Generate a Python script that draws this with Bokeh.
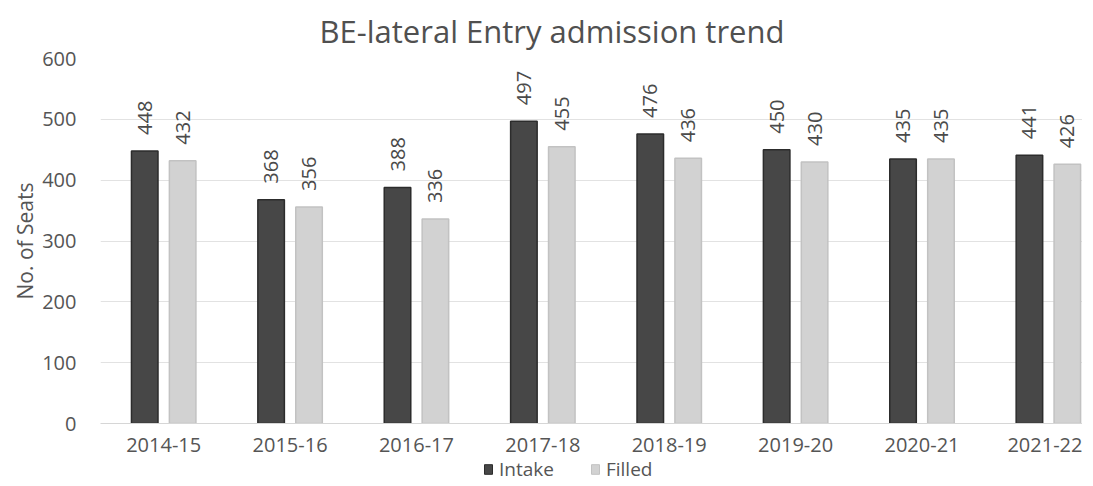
import math
from bokeh.plotting import figure
from bokeh.layouts import column
from bokeh.models import ColumnDataSource, Range1d, Legend, LegendItem, FixedTicker
from bokeh.core.properties import value
from bokeh.embed import file_html
from bokeh.resources import INLINE

years = ["2014-15", "2015-16", "2016-17", "2017-18", "2018-19", "2019-20", "2020-21", "2021-22"]
intake = [448, 368, 388, 497, 476, 450, 435, 441]
filled = [432, 356, 336, 455, 436, 430, 435, 426]

centers = [i + 0.5 for i in range(len(years))]
OFF = 0.15
src = ColumnDataSource(dict(
    xi=[c - OFF for c in centers], xf=[c + OFF for c in centers],
    intake=intake, filled=filled,
    intake_lbl=[str(v) for v in intake],
    filled_lbl=[str(v) for v in filled]))

FONT = "Open Sans"
TXT = "#555555"
DARK_FILL, DARK_LINE = "#474747", "#2c2c2c"
LIGHT_FILL, LIGHT_LINE = "#d2d2d2", "#c2c2c2"

p = figure(x_range=Range1d(0, 7.77), y_range=Range1d(0, 600),
           frame_width=982, frame_height=365,
           output_backend="svg", toolbar_location=None,
           title="BE-lateral Entry admission trend",
           min_border_left=100, min_border_right=0, min_border_top=52, min_border_bottom=34)
p.background_fill_color = "#ffffff"
p.border_fill_color = "#ffffff"
p.outline_line_color = None

p.title.align = "left"
p.title.offset = 219
p.title.standoff = 14
p.title.text_font = FONT
p.title.text_font_size = "31px"
p.title.text_font_style = "normal"
p.title.text_color = "#505050"

p.vbar(x="xi", top="intake", width=0.21, source=src,
       fill_color=DARK_FILL, line_color=DARK_LINE, line_width=1.5)
p.vbar(x="xf", top="filled", width=0.21, source=src,
       fill_color=LIGHT_FILL, line_color=LIGHT_LINE, line_width=1.5)

p.text(x="xi", y="intake", text="intake_lbl", source=src,
       angle=math.pi / 2, text_align="left", text_baseline="middle", y_offset=-16,
       text_font=value(FONT), text_font_size="20px", text_color="#4a4a4a")
p.text(x="xf", y="filled", text="filled_lbl", source=src,
       angle=math.pi / 2, text_align="left", text_baseline="middle", y_offset=-16,
       text_font=value(FONT), text_font_size="20px", text_color="#4a4a4a")

p.xaxis.ticker = FixedTicker(ticks=centers)
p.xaxis.major_label_overrides = {c: y for c, y in zip(centers, years)}
p.xaxis.axis_line_color = "#d6d6d6"
p.yaxis.axis_line_color = None
for ax in (p.xaxis[0], p.yaxis[0]):
    ax.major_tick_line_color = None
    ax.minor_tick_line_color = None
    ax.major_label_text_font = FONT
    ax.major_label_text_font_size = "20px"
    ax.major_label_text_color = TXT
p.yaxis.ticker = FixedTicker(ticks=[0, 100, 200, 300, 400, 500, 600])
p.yaxis.axis_label = "No. of Seats"
p.yaxis.axis_label_text_font = FONT
p.yaxis.axis_label_text_font_size = "21px"
p.yaxis.axis_label_text_font_style = "normal"
p.yaxis.axis_label_text_color = TXT
p.yaxis.axis_label_standoff = 0
p.yaxis.major_label_standoff = 18
p.xaxis.major_label_standoff = 8
p.xgrid.grid_line_color = None
p.ygrid.grid_line_color = "#e2e2e2"

# legend strip below the chart
lg = figure(width=1082, height=19, output_backend="svg", toolbar_location=None,
            min_border=0, x_axis_location=None, y_axis_location=None,
            x_range=Range1d(0, 1), y_range=Range1d(0, 1))
lg.grid.visible = False
lg.outline_line_color = None
lg.background_fill_color = "#ffffff"
lg.border_fill_color = "#ffffff"
d1 = lg.vbar(x=[-5], top=[0], width=0.1, fill_color=DARK_FILL, line_color=DARK_LINE)
d2 = lg.vbar(x=[-5], top=[0], width=0.1, fill_color=LIGHT_FILL, line_color=LIGHT_LINE)
legend = Legend(items=[LegendItem(label="Intake", renderers=[d1]),
                       LegendItem(label="Filled", renderers=[d2])],
                orientation="horizontal", location=(383, -6),
                label_text_font=FONT, label_text_font_size="19px", label_text_color=TXT,
                label_text_line_height=1.0,
                label_standoff=6, label_height=18,
                glyph_width=10, glyph_height=12, spacing=36, padding=0, margin=0,
                border_line_color=None, background_fill_alpha=0)
lg.add_layout(legend, "center")

open("out.html", "w").write(file_html(column(p, lg, spacing=0), INLINE))
